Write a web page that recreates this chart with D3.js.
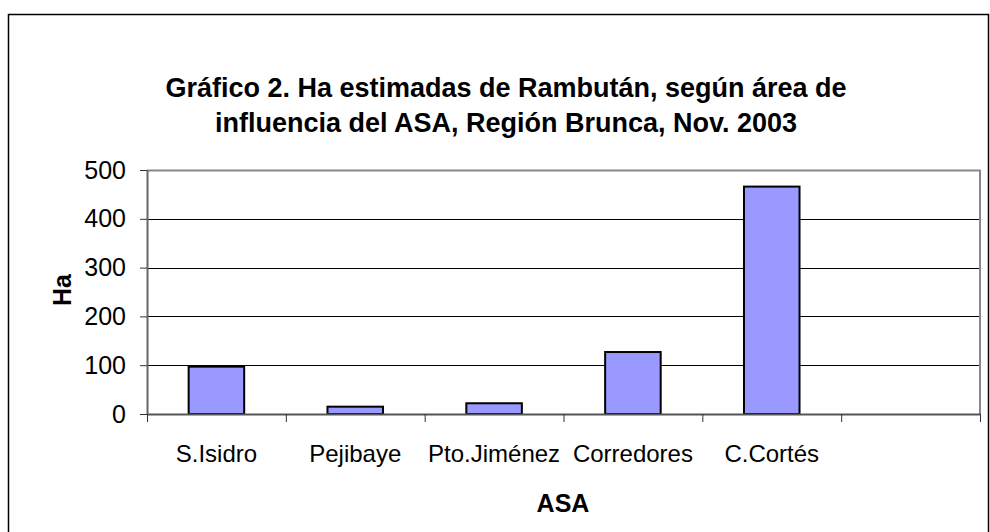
<!DOCTYPE html>
<html>
<head>
<meta charset="utf-8">
<script src="https://cdn.jsdelivr.net/npm/d3@7"></script>
<style>
  body { margin: 0; background: #fff; }
  text { font-family: "Liberation Sans", Arial, sans-serif; fill: #000; }
</style>
</head>
<body>
<div id="chart"></div>
<script>
// data
const categories = ["S.Isidro", "Pejibaye", "Pto.Jiménez", "Corredores", "C.Cortés", ""];
const hectares = [97, 15, 22, 127, 466, null];
const yTicks = [0, 100, 200, 300, 400, 500];
const titleLines = ["Gráfico 2. Ha estimadas de Rambután, según área de",
                    "influencia del ASA, Región Brunca, Nov. 2003"];

const W = 990, H = 532;
const margin = { top: 170, right: 10, bottom: 118, left: 147 };
const width = 980 - margin.left;
const height = 414 - margin.top;

const svg = d3.select("#chart").append("svg")
    .attr("width", W)
    .attr("height", H);

// outer chart border
svg.append("rect")
    .attr("x", 8.5).attr("y", 14.5)
    .attr("width", 980).attr("height", 530)
    .attr("fill", "none")
    .attr("stroke", "#000")
    .attr("stroke-width", 1.5);

// title
svg.selectAll(".title")
    .data(titleLines)
    .enter()
    .append("text")
    .attr("class", "title")
    .attr("x", 506)
    .attr("y", (d, i) => 97 + i * 35)
    .attr("text-anchor", "middle")
    .style("font-size", "27px")
    .style("font-weight", "bold")
    .text(d => d);

const x = d3.scaleBand()
    .domain(d3.range(categories.length))
    .range([0, width])
    .paddingInner(0.6)
    .paddingOuter(0.3);

const xTick = d3.scaleLinear()
    .domain([0, categories.length])
    .range([0, width]);

const y = d3.scaleLinear()
    .domain([0, 500])
    .range([height, 0]);

const g = svg.append("g").attr("transform", `translate(${margin.left},${margin.top})`);

// horizontal gridlines
g.selectAll(".yGrid")
    .data(yTicks.filter(t => t > 0 && t < 500))
    .enter()
    .append("line")
    .attr("class", "yGrid")
    .attr("x1", 0)
    .attr("x2", width)
    .attr("y1", d => Math.round(y(d)) + 0.5)
    .attr("y2", d => Math.round(y(d)) + 0.5)
    .attr("stroke", "#000")
    .attr("stroke-width", 1);

// plot area frame (top and right)
g.append("path")
    .attr("d", `M0,${y(500) + 0.5}H${width}V${height}`)
    .attr("fill", "none")
    .attr("stroke", "#888")
    .attr("stroke-width", 2);

// bars
g.selectAll(".bar")
    .data(hectares.map((v, i) => ({ i, v })).filter(d => d.v !== null))
    .enter()
    .append("rect")
    .attr("class", "bar")
    .attr("x", d => x(d.i))
    .attr("width", x.bandwidth())
    .attr("y", d => y(d.v))
    .attr("height", d => height - y(d.v))
    .attr("fill", "#9999FF")
    .attr("stroke", "#000")
    .attr("stroke-width", 2);

// y axis
const yAxis = g.append("g")
    .attr("class", "axis axis--y")
    .call(d3.axisLeft(y).tickValues(yTicks).tickSize(7).tickPadding(14).tickSizeOuter(0));
yAxis.select(".domain").attr("stroke", "#666").attr("stroke-width", 2);
yAxis.selectAll(".tick line").attr("stroke", "#333");
yAxis.selectAll("text")
    .style("font-size", "25px")
    .style("font-family", "'Liberation Sans', Arial, sans-serif");

// x axis: ticks on band boundaries
const xAxis = g.append("g")
    .attr("class", "axis axis--x")
    .attr("transform", `translate(0,${height})`)
    .call(d3.axisBottom(xTick).tickValues(d3.range(categories.length + 1)).tickSize(8).tickFormat("").tickSizeOuter(0));
xAxis.select(".domain").attr("stroke", "#555").attr("stroke-width", 2);
xAxis.selectAll(".tick line").attr("stroke", "#333");

g.selectAll(".xLabel")
    .data(categories)
    .enter()
    .append("text")
    .attr("class", "xLabel")
    .attr("x", (d, i) => x(i) + x.bandwidth() / 2)
    .attr("y", height + 48)
    .attr("text-anchor", "middle")
    .style("font-size", "24px")
    .text(d => d);

// axis titles
svg.append("text")
    .attr("x", 563)
    .attr("y", 512)
    .attr("text-anchor", "middle")
    .style("font-size", "25px")
    .style("font-weight", "bold")
    .text("ASA");

svg.append("text")
    .attr("transform", "translate(71,290) rotate(-90)")
    .attr("text-anchor", "middle")
    .style("font-size", "25px")
    .style("font-weight", "bold")
    .text("Ha");
</script>
</body>
</html>
